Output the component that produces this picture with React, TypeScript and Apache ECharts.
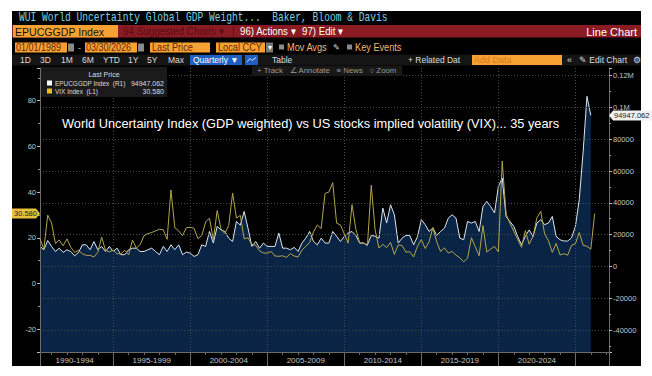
import React, { useEffect, useRef } from "react";
import * as echarts from "echarts";

// First observation is 1990 Q1; points are placed at quarter ends (decimal years)
const FIRST_YEAR = 1990;

// World Uncertainty Index, GDP weighted (EPUCGGDP Index, right axis), quarterly 1990Q1..2025Q4
const epuValues = [
  12600, 10500, 16300, 12600,
  9400, 11500, 8800, 10500,
  9400, 6700, 8800, 13600,
  13600, 10500, 15700, 10500,
  12600, 9400, 12600, 9400,
  11500, 7400, 7400, 10500,
  11500, 11500, 9400, 9400,
  10500, 11500, 9400, 7400,
  12600, 9400, 13600, 10500,
  13600, 7400, 9000, 8400,
  6300, 7400, 13600, 12600,
  22000, 14700, 25200, 23000,
  22000, 17800, 15700, 28300,
  26000, 34600, 24000, 12600,
  15700, 11500, 14700, 12600,
  12600, 12600, 21000, 11500,
  11500, 10500, 12000, 9400,
  14700, 17800, 22000, 15700,
  13600, 17800, 14700, 14700,
  22000, 19000, 15700, 18900,
  21000, 22000, 19500, 14700,
  14700, 13600, 19500, 19000,
  17800, 36700, 27300, 38800,
  32500, 14700, 17800, 19500,
  19500, 13600, 18800, 29400,
  26300, 22000, 24200, 19500,
  22000, 24100, 30400, 32500,
  30400, 17800, 16800, 28300,
  27300, 28300, 22000, 37700,
  40900, 37700, 33600, 50300,
  55600, 31450, 28300, 25200,
  19000, 13650, 18900, 23000,
  18900, 27300, 29400, 26300,
  27300, 31450, 18900, 16800,
  16000, 16000, 18000, 25200,
  42000, 72000, 107000, 94947.062,
];

// VIX Index (left axis), quarterly 1990Q1..2026Q1
const vixValues = [
  19.6, 15.0, 29.9, 26.5,
  17.5, 19.0, 16.5, 19.5,
  15.8, 13.6, 14.5, 13.0,
  12.3, 12.3, 11.6, 13.6,
  20.3, 14.5, 13.8, 14.6,
  13.0, 13.0, 14.5, 12.5,
  19.0, 15.5, 17.0, 20.9,
  21.8, 22.3, 23.0, 23.7,
  23.5, 19.3, 40.9, 24.4,
  23.0, 20.9, 24.4, 24.6,
  24.1, 19.6, 21.0, 26.9,
  28.6, 19.1, 31.9, 23.8,
  21.8, 25.4, 39.5, 28.6,
  29.8, 19.5, 20.0, 17.0,
  16.7, 14.3, 13.3, 13.3,
  14.0, 12.0, 11.9, 12.1,
  11.4, 13.1, 12.0, 11.6,
  14.6, 16.2, 18.0, 22.5,
  25.6, 24.0, 39.4, 40.0,
  44.1, 26.4, 25.6, 21.7,
  17.6, 34.5, 23.7, 17.8,
  17.7, 16.5, 43.0, 23.4,
  15.5, 17.1, 15.7, 18.0,
  12.7, 16.9, 16.6, 13.7,
  13.9, 11.6, 16.3, 19.2,
  15.3, 18.2, 24.5, 18.2,
  14.0, 15.6, 13.3, 14.0,
  12.4, 11.2, 9.5, 11.0,
  20.0, 16.1, 12.1, 25.4,
  13.7, 15.1, 16.2, 13.8,
  53.5, 30.4, 26.4, 22.8,
  19.4, 15.8, 23.1, 17.2,
  20.6, 28.7, 31.6, 21.7,
  18.7, 13.6, 17.5, 12.5,
  13.0, 12.4, 16.7, 17.4,
  22.3, 16.7, 16.3, 15.0,
  30.58,
];

const periodLabels = ["1990-1994", "1995-1999", "2000-2004", "2005-2009", "2010-2014", "2015-2019", "2020-2024"];
const periodStart = 1995; // tick that closes the first period

const quarterTime = (i: number) => FIRST_YEAR + (i + 1) / 4;

const SANS = '"Liberation Sans", Arial, sans-serif';

function txt(x: number, y: number, text: string, fill: string, size: number, extra: any = {}) {
  const { align, weight, family, scaleX, z } = extra;
  return {
    type: "text",
    x,
    y,
    z: z ?? 20,
    scaleX: scaleX ?? 1,
    silent: true,
    style: {
      text,
      fill,
      font: `${weight || "normal"} ${size}px ${family || SANS}`,
      align: align || "left",
      verticalAlign: "middle",
    },
  };
}
function box(x: number, y: number, w: number, h: number, fill: string, z = 15) {
  return { type: "rect", z, silent: true, shape: { x, y, width: w, height: h }, style: { fill } };
}

export default function App() {
  const ref = useRef<HTMLDivElement>(null);
  useEffect(() => {
    const chart = echarts.init(ref.current!, null, { renderer: "svg" });
    const epuData = epuValues.map((v, i) => [quarterTime(i), v]);
    const vixData = vixValues.map((v, i) => [quarterTime(i), v]);
    const axisGrey = "#6c6c6c";
    const labelGrey = "#c4c4c4";

    chart.setOption({
      animation: false,
      backgroundColor: "transparent",
      grid: { left: 40, right: 43, top: 68, bottom: 24 },
      xAxis: {
        type: "value",
        min: quarterTime(0),
        max: 2027.18,
        minInterval: 5,
        maxInterval: 5,
        z: 3,
        axisLine: { show: true, onZero: false, lineStyle: { color: axisGrey } },
        axisTick: { show: true, length: 14, lineStyle: { color: axisGrey } },
        minorTick: { show: true, splitNumber: 5, length: 3, lineStyle: { color: axisGrey } },
        splitLine: {
          show: true,
          showMinLine: false,
          showMaxLine: false,
          lineStyle: { color: "#4a4a4a", type: [1, 2] },
        },
        axisLabel: {
          showMinLabel: false,
          showMaxLabel: false,
          color: labelGrey,
          fontSize: 8,
          fontFamily: SANS,
          margin: 4,
          padding: [0, 77, 0, 0],
          formatter: (v: number) => {
            const k = Math.round((v - periodStart) / 5);
            if (Math.abs(v - (periodStart + 5 * k)) > 1e-6) return "";
            return periodLabels[k] || "";
          },
        },
      },
      yAxis: [
        {
          type: "value",
          position: "left",
          min: -30,
          max: 94.3,
          minInterval: 20,
          maxInterval: 20,
          z: 3,
          axisLine: { show: true, lineStyle: { color: axisGrey } },
          axisTick: { show: true, length: 3, lineStyle: { color: "#bbbbbb" } },
          minorTick: { show: true, splitNumber: 2, length: 2, lineStyle: { color: "#999" } },
          splitLine: { show: false },
          axisLabel: {
            showMinLabel: false,
            showMaxLabel: false,
            color: labelGrey,
            fontSize: 7.5,
            fontFamily: SANS,
            margin: 4,
          },
        },
        {
          type: "value",
          position: "right",
          min: -53800,
          max: 124800,
          minInterval: 20000,
          maxInterval: 20000,
          z: 3,
          axisLine: { show: true, lineStyle: { color: axisGrey } },
          axisTick: { show: true, length: 3, lineStyle: { color: "#bbbbbb" } },
          minorTick: { show: true, splitNumber: 2, length: 2, lineStyle: { color: "#999" } },
          splitLine: {
            show: true,
            showMinLine: false,
            showMaxLine: false,
            lineStyle: { color: "#4a4a4a", type: [1, 2] },
          },
          axisLabel: {
            showMinLabel: false,
            showMaxLabel: false,
            color: labelGrey,
            fontSize: 7.5,
            fontFamily: SANS,
            margin: 4,
            formatter: (v: number) => (Math.abs(v) >= 100000 ? `${v / 1e6}M` : String(v)),
          },
        },
      ],
      series: [
        {
          name: "EPUCGGDP Index",
          type: "line",
          yAxisIndex: 1,
          data: epuData,
          showSymbol: false,
          z: 2,
          lineStyle: { color: "#dde5ee", width: 1 },
          areaStyle: { color: "#0a2446", opacity: 1, origin: "start" },
        },
        {
          name: "VIX Index",
          type: "line",
          yAxisIndex: 0,
          data: vixData,
          showSymbol: false,
          z: 4,
          lineStyle: { color: "#b3a54c", width: 1 },
        },
      ],
    });

    const vixLast = vixValues[vixValues.length - 1];
    const epuLast = epuValues[epuValues.length - 1];
    const yV = chart.convertToPixel({ yAxisIndex: 0 }, vixLast) as unknown as number;
    const yE = chart.convertToPixel({ yAxisIndex: 1 }, epuLast) as unknown as number;

    const orange = "#f6a233";
    const red = "#8a1b22";
    const g: any[] = [
      // row 1 title
      txt(19, 18, "WUI World Uncertainty Global GDP Weight...  Baker, Bloom & Davis", "#7fd0e0", 12, {
        family: '"Liberation Mono", monospace',
        scaleX: 0.8,
      }),
      // row 2 red bar
      box(12, 25, 629, 12.5, red),
      box(13, 25, 105, 12.5, orange),
      txt(15, 31.5, "EPUCGGDP Index", "#111", 11.5, { scaleX: 0.92 }),
      txt(123, 31.5, "94 Suggested Charts ▾", "#5a0d14", 11, { scaleX: 0.9 }),
      box(233, 26, 1, 10.5, "#6b1018"),
      txt(240, 31.5, "96) Actions ▾", "#ffffff", 11, { scaleX: 0.88 }),
      txt(302, 31.5, "97) Edit ▾", "#ffffff", 11, { scaleX: 0.88 }),
      txt(637, 31.5, "Line Chart", "#ffffff", 11, { align: "right" }),
      // row 3
      box(15, 42.5, 52, 10, orange),
      txt(16, 47.5, "01/01/1989", "#6b240a", 10, { scaleX: 0.9 }),
      box(68, 43.5, 6, 8, "#8a8a8a"),
      txt(78, 47.5, "-", "#cccccc", 9),
      box(85, 42.5, 52, 10, orange),
      txt(86, 47.5, "03/30/2026", "#6b240a", 10, { scaleX: 0.9 }),
      box(138, 43.5, 6, 8, "#8a8a8a"),
      box(150, 42.5, 60, 10, orange),
      txt(152, 47.5, "Last Price", "#6b240a", 10, { scaleX: 0.92 }),
      box(216, 42.5, 49, 10, orange),
      txt(218, 47.5, "Local CCY", "#6b240a", 10, { scaleX: 0.92 }),
      box(266, 42.5, 7, 10, "#777777"),
      txt(269.5, 47.5, "▾", "#ffffff", 8, { align: "center" }),
      box(279, 44.5, 5, 5, "#8a8a8a"),
      txt(287, 47.5, "Mov Avgs", "#f2b57a", 10, { scaleX: 0.92 }),
      txt(333, 47.5, "✎", "#dddddd", 8),
      box(347, 44.5, 5, 5, "#8a8a8a"),
      txt(355, 47.5, "Key Events", "#f2b57a", 10, { scaleX: 0.92 }),
      // row 4
      box(12, 54.5, 629, 11, "#151515"),
      txt(20, 60, "1D", "#dddddd", 8.5),
      txt(40, 60, "3D", "#dddddd", 8.5),
      txt(61, 60, "1M", "#dddddd", 8.5),
      txt(82, 60, "6M", "#dddddd", 8.5),
      txt(103, 60, "YTD", "#dddddd", 8.5),
      txt(128, 60, "1Y", "#dddddd", 8.5),
      txt(147, 60, "5Y", "#dddddd", 8.5),
      txt(168, 60, "Max", "#dddddd", 8.5),
      box(190, 55, 52, 10, "#1f5fbf"),
      txt(193, 60, "Quarterly ▼", "#ffffff", 8.5),
      box(245, 55, 13, 10, "#1f5fbf"),
      {
        type: "polyline",
        z: 21,
        silent: true,
        shape: { points: [[247, 62], [250, 58.5], [252, 60.5], [256, 57.5]] },
        style: { stroke: "#ffffff", lineWidth: 0.8, fill: "none" },
      },
      txt(272, 60, "Table", "#dddddd", 8.5),
      txt(408, 60, "+ Related Dat", "#dddddd", 8.5),
      box(472, 55, 90, 10, orange),
      txt(474, 60, "Add Data", "#d97b1c", 9),
      txt(567, 60, "«", "#dddddd", 9),
      txt(579, 60, "✎ Edit Chart", "#dddddd", 8.5),
      txt(633, 60, "⚙", "#dddddd", 8.5),
      // chart toolbar
      box(252, 66, 150, 10, "#181818"),
      txt(257, 71, "+ Track   ∠ Annotate   ≡ News   ○ Zoom", "#9a9a9a", 7.5, { scaleX: 1.05 }),
      // legend box
      box(41, 67, 126, 30, "#1b1b1b"),
      txt(104, 74.5, "Last Price", "#dddddd", 7, { align: "center" }),
      box(47, 80.5, 5, 5, "#ffffff", 21),
      txt(55, 83, "EPUCGGDP Index  (R1)", "#dddddd", 7, { scaleX: 0.92 }),
      txt(164, 83, epuLast.toFixed(3), "#dddddd", 7, { align: "right" }),
      box(47, 88.5, 5, 5, "#e8c020", 21),
      txt(55, 91, "VIX Index  (L1)", "#dddddd", 7, { scaleX: 0.92 }),
      txt(164, 91, vixLast.toFixed(3), "#dddddd", 7, { align: "right" }),
      // chart title
      txt(62, 123, "World Uncertainty Index (GDP weighted) vs US stocks implied volatility (VIX)... 35 years", "#ffffff", 13, { scaleX: 0.985 }),
      // last value tags
      {
        type: "polygon",
        z: 25,
        silent: true,
        shape: { points: [[12, yV - 5], [36, yV - 5], [40, yV], [36, yV + 5], [12, yV + 5]] },
        style: { fill: "#e9c23e" },
      },
      txt(14, yV, vixLast.toFixed(3), "#222", 7.5, { z: 26 }),
      {
        type: "polygon",
        z: 25,
        silent: true,
        shape: { points: [[609, yE], [613, yE - 5], [652, yE - 5], [652, yE + 5], [613, yE + 5]] },
        style: { fill: "#f0f0f0" },
      },
      txt(614, yE, epuLast.toFixed(3), "#222", 7.5, { z: 26 }),
    ];
    chart.setOption({ graphic: g });
    return () => chart.dispose();
  }, []);

  return (
    <div style={{ position: "absolute", left: 0, top: 0, width: 652, height: 376, background: "#ffffff" }}>
      <div style={{ position: "absolute", left: 12, top: 11, width: 629, height: 355, background: "#000000" }} />
      <div ref={ref} style={{ position: "absolute", left: 0, top: 0, width: 652, height: 376 }} />
    </div>
  );
}
